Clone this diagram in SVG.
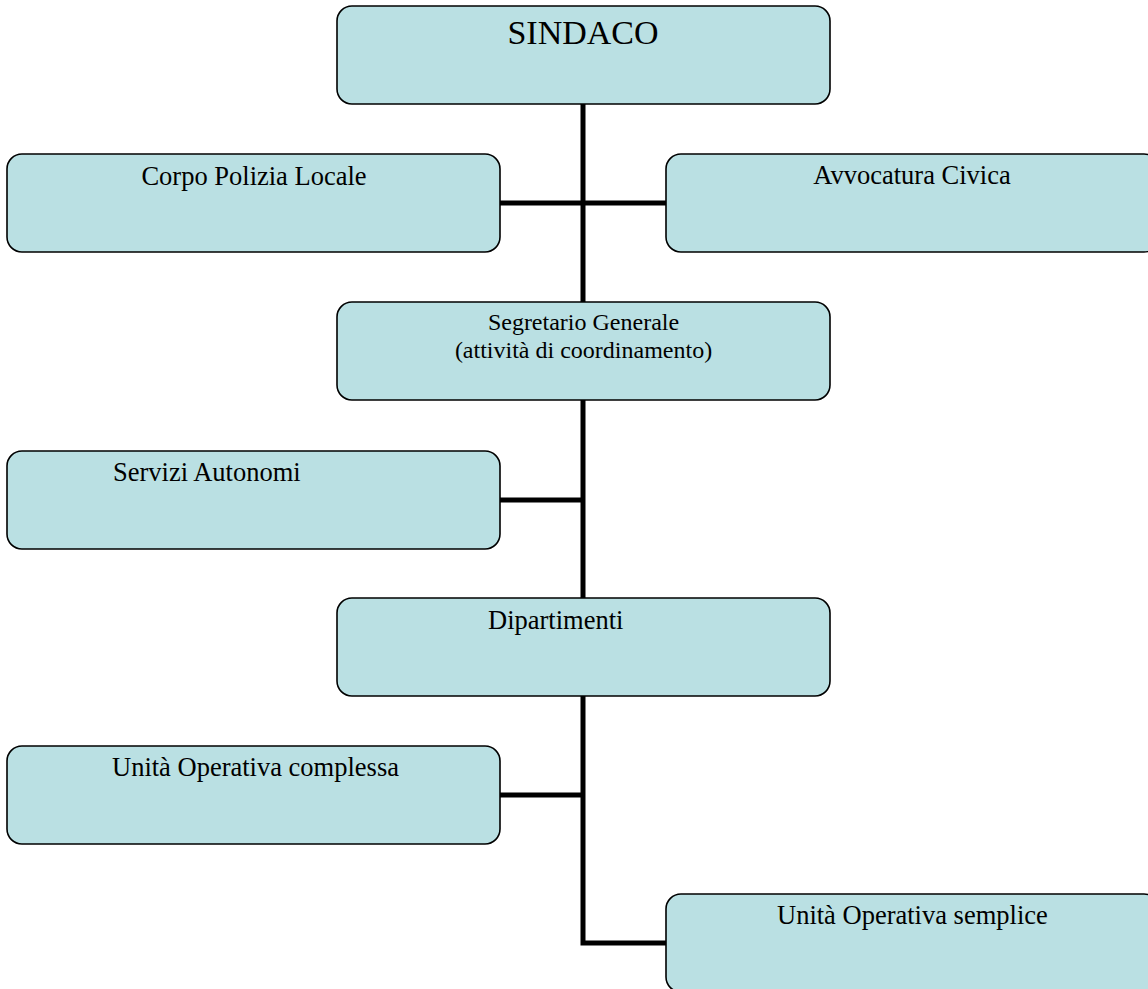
<svg xmlns="http://www.w3.org/2000/svg" width="1148" height="989" viewBox="0 0 1148 989">
<style>
.box{fill:#BAE0E3;stroke:#000;stroke-width:1.6}
.t{font-family:"Liberation Serif","Times New Roman",serif;font-size:26.5px;fill:#000}
.s{font-family:"Liberation Serif","Times New Roman",serif;font-size:24px;fill:#000}
.conn{fill:none;stroke:#000;stroke-width:5;stroke-linejoin:miter;stroke-linecap:butt}
</style>
<rect width="1148" height="989" fill="#fff"/>
<g id="connectors">
<path class="conn" d="M583 104 V302"/>
<path class="conn" d="M500 203 H666"/>
<path class="conn" d="M583 400 V598"/>
<path class="conn" d="M500 500 H583"/>
<path class="conn" d="M583 696 V943 H666"/>
<path class="conn" d="M500 795 H583"/>
</g>
<g id="sindaco">
<rect class="box" x="337" y="6" width="493" height="98" rx="15"/>
<text x="583" y="44" text-anchor="middle" font-family="Liberation Serif, Times New Roman, serif" font-size="34">SINDACO</text>
</g>
<g id="corpo-polizia">
<rect class="box" x="7" y="154" width="493" height="98" rx="15"/>
<text class="t" x="254" y="185" text-anchor="middle">Corpo Polizia Locale</text>
</g>
<g id="avvocatura">
<rect class="box" x="666" y="154" width="493" height="98" rx="15"/>
<text class="t" x="912" y="184" text-anchor="middle">Avvocatura Civica</text>
</g>
<g id="segretario">
<rect class="box" x="337" y="302" width="493" height="98" rx="15"/>
<text class="s" x="583.5" y="330" text-anchor="middle">Segretario Generale</text>
<text class="s" x="583.5" y="358" text-anchor="middle">(attività di coordinamento)</text>
</g>
<g id="servizi">
<rect class="box" x="7" y="451" width="493" height="98" rx="15"/>
<text class="t" x="113" y="481">Servizi Autonomi</text>
</g>
<g id="dipartimenti">
<rect class="box" x="337" y="598" width="493" height="98" rx="15"/>
<text class="t" x="488" y="629">Dipartimenti</text>
</g>
<g id="uo-complessa">
<rect class="box" x="7" y="746" width="493" height="98" rx="15"/>
<text class="t" x="112" y="776">Unità Operativa complessa</text>
</g>
<g id="uo-semplice">
<rect class="box" x="666" y="894" width="493" height="98" rx="15"/>
<text class="t" x="777" y="924">Unità Operativa semplice</text>
</g>
</svg>
